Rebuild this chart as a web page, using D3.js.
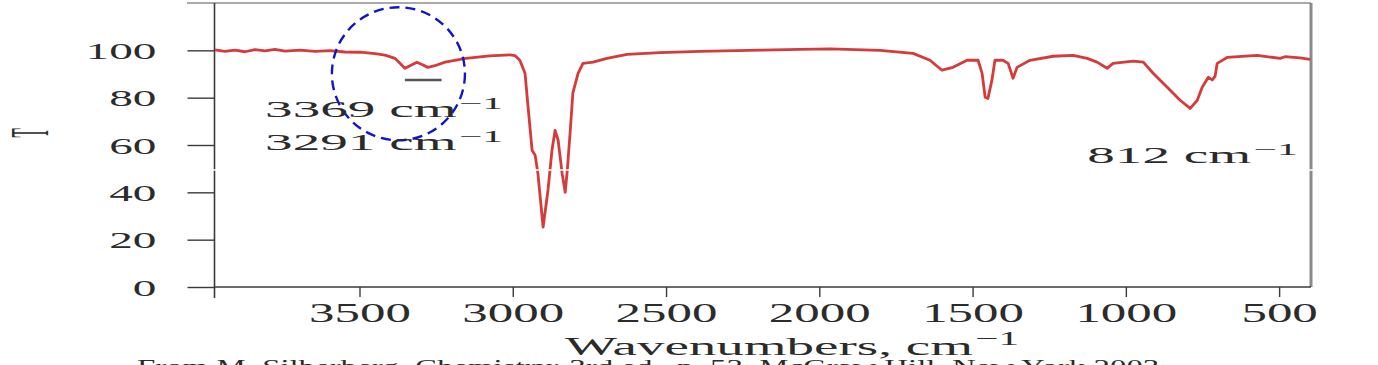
<!DOCTYPE html>
<html>
<head>
<meta charset="utf-8">
<script src="https://cdn.jsdelivr.net/npm/d3@7"></script>
<style>
  body { margin: 0; background: #fff; }
  svg { display: block; }
  text { font-family: "Liberation Serif", "Times New Roman", serif; fill: #2b2b2b; }
</style>
</head>
<body>
<div id="chart"></div>
<script>
// IR spectrum (wavenumber in cm-1, transmittance %)
const wavenumbers = [3971, 3939, 3906, 3873, 3841, 3808, 3776, 3743, 3694, 3645, 3596, 3547, 3498, 3449, 3417, 3384, 3368, 3352, 3335, 3313, 3296, 3277, 3254, 3221, 3153, 3075, 3009, 2993, 2977, 2960, 2950, 2937, 2927, 2918, 2901, 2885, 2872, 2862, 2852, 2839, 2829, 2823, 2813, 2804, 2787, 2771, 2738, 2693, 2627, 2520, 2389, 2193, 2063, 1965, 1802, 1694, 1639, 1600, 1564, 1518, 1482, 1469, 1459, 1450, 1437, 1427, 1401, 1384, 1368, 1355, 1313, 1237, 1172, 1126, 1094, 1061, 1042, 976, 943, 911, 865, 823, 790, 767, 751, 731, 718, 709, 702, 670, 572, 497, 481, 432, 399];
const transmittance = [100.2, 99.6, 100.1, 99.4, 100.3, 99.8, 100.4, 99.7, 100.1, 99.6, 99.9, 99.3, 99.2, 98.6, 98.0, 96.6, 94.5, 92.4, 93.5, 95.0, 94.0, 92.8, 93.5, 95.0, 96.6, 97.7, 98.1, 97.8, 95.8, 90.3, 76.0, 57.8, 55.7, 48.0, 25.3, 41.0, 57.8, 66.2, 62.0, 48.0, 40.0, 48.0, 65.0, 81.9, 90.3, 94.5, 95.0, 96.6, 98.3, 99.0, 99.6, 100.1, 100.4, 100.6, 100.0, 98.7, 95.8, 91.6, 92.8, 95.8, 95.8, 90.3, 80.2, 79.7, 87.3, 95.8, 95.8, 94.5, 88.2, 92.8, 95.8, 97.5, 97.9, 96.6, 95.0, 92.4, 94.5, 95.4, 95.0, 90.3, 84.4, 78.9, 75.5, 78.9, 84.4, 88.6, 87.5, 89.0, 94.5, 97.0, 97.9, 96.6, 97.3, 96.8, 96.2];

const xTicks = [3500, 3000, 2500, 2000, 1500, 1000, 500];
const yTicks = [0, 20, 40, 60, 80, 100];

// peak annotations: text, left edge (cm-1), baseline (T)
const peakNames = ['3369', '3291', '812'];
const peakWn = [3808, 3808, 1126];
const peakT = [71.7, 57.8, 52.3];

const width = 1378;
const height = 365;

const svg = d3.select('#chart')
  .append('svg')
  .attr('width', width)
  .attr('height', height);

const x = d3.scaleLinear()
  .domain([3973, 396])
  .range([214.5, 1311]);

const y = d3.scaleLinear()
  .domain([0, 120])
  .range([287, 3]);

// frame: top line (extends left like a tick) and right edge
svg.append('line')
  .attr('x1', 187).attr('x2', x.range()[1])
  .attr('y1', y(120)).attr('y2', y(120))
  .attr('stroke', '#555').attr('stroke-width', 1.2);

svg.append('line')
  .attr('x1', x.range()[1]).attr('x2', x.range()[1])
  .attr('y1', y(120)).attr('y2', y(0))
  .attr('stroke', '#8a8a8a').attr('stroke-width', 3);

// y axis
const yAxis = svg.append('g')
  .attr('transform', `translate(${x.range()[0]},0)`)
  .call(d3.axisLeft(y).tickValues(yTicks).tickSize(27).tickSizeOuter(0).tickFormat(d3.format('d')));

yAxis.select('.domain').remove();
yAxis.append('line')
  .attr('x1', 0).attr('x2', 0)
  .attr('y1', y(120)).attr('y2', y(0) + 11)
  .attr('stroke', '#3a3a3a').attr('stroke-width', 1.6);
yAxis.selectAll('.tick line').attr('stroke', '#3a3a3a').attr('stroke-width', 1.4);
yAxis.selectAll('.tick text')
  .attr('x', 0)
  .attr('dy', '0.34em')
  .attr('font-size', 24)
  .attr('fill', '#2b2b2b')
  .attr('transform', 'translate(-58,0) scale(1.97,1)');

// x axis
const xAxis = svg.append('g')
  .attr('transform', `translate(0,${y(0)})`)
  .call(d3.axisBottom(x).tickValues(xTicks).tickSize(10).tickSizeOuter(0).tickFormat(d3.format('d')));

xAxis.select('.domain')
  .attr('d', `M${x.range()[0]},0H${x.range()[1]}`)
  .attr('stroke', '#3a3a3a').attr('stroke-width', 1.6);
xAxis.selectAll('.tick line').attr('stroke', '#3a3a3a').attr('stroke-width', 1.4);
xAxis.selectAll('.tick text')
  .attr('y', 0)
  .attr('dy', 0)
  .attr('font-size', 28)
  .attr('fill', '#2b2b2b')
  .attr('transform', 'translate(0,35) scale(1.82,1)');

// spectrum line
const spectrum = wavenumbers.map((w, i) => [w, transmittance[i]]);

svg.append('path')
  .datum(spectrum)
  .attr('fill', 'none')
  .attr('stroke', '#d63a3a')
  .attr('stroke-width', 2.8)
  .attr('stroke-linejoin', 'round')
  .attr('d', d3.line().x(d => x(d[0])).y(d => y(d[1])));

// small marker under the O-H / N-H dip
svg.append('line')
  .attr('x1', x(3352)).attr('x2', x(3232))
  .attr('y1', y(87.5)).attr('y2', y(87.5))
  .attr('stroke', '#555').attr('stroke-width', 2.5);

// blue dashed ellipse round the 3369/3291 dips
svg.append('ellipse')
  .attr('cx', x(3373)).attr('cy', y(90.1))
  .attr('rx', x(3373) - x(3590)).attr('ry', y(62) - y(90.1))
  .attr('fill', 'none')
  .attr('stroke', '#1414c8')
  .attr('stroke-width', 2.4)
  .attr('stroke-dasharray', '10,6');

// text with a superscript, stretched sideways like the source picture
function label(left, base, size, sx, main, sup, supShift) {
  const t = svg.append('text')
    .attr('transform', `translate(${left},${base}) scale(${sx},1)`)
    .attr('font-size', size);
  t.append('tspan').text(main);
  if (sup) {
    t.append('tspan')
      .attr('font-size', size * 0.75)
      .attr('dx', 1)
      .attr('dy', -supShift)
      .text(sup);
  }
  return t;
}

peakNames.forEach((p, i) => {
  label(x(peakWn[i]), y(peakT[i]), 23, 2.4, p + ' cm', '\u22121', 8);
});

label(565, 355, 25, 2.2, 'Wavenumbers, cm', '\u22121', 10);

// y axis title
svg.append('text')
  .attr('transform', 'translate(48,133) scale(3.6,1) rotate(-90)')
  .attr('text-anchor', 'middle')
  .attr('font-size', 15)
  .text('T');

// source caption, cut off by the bottom edge
const cap = svg.append('text')
  .attr('font-size', 22)
  .text('From M. Silberberg, Chemistry: 3rd ed., p. 53, McGraw Hill, New York 2003');
const capW = cap.node().getComputedTextLength();
cap.attr('transform', `translate(137,374) scale(${1023 / capW},1)`);

// scan seam across the picture
svg.append('line')
  .attr('x1', 190).attr('x2', width)
  .attr('y1', 170).attr('y2', 170)
  .attr('stroke', '#fff').attr('stroke-width', 1.5);
</script>
</body>
</html>
